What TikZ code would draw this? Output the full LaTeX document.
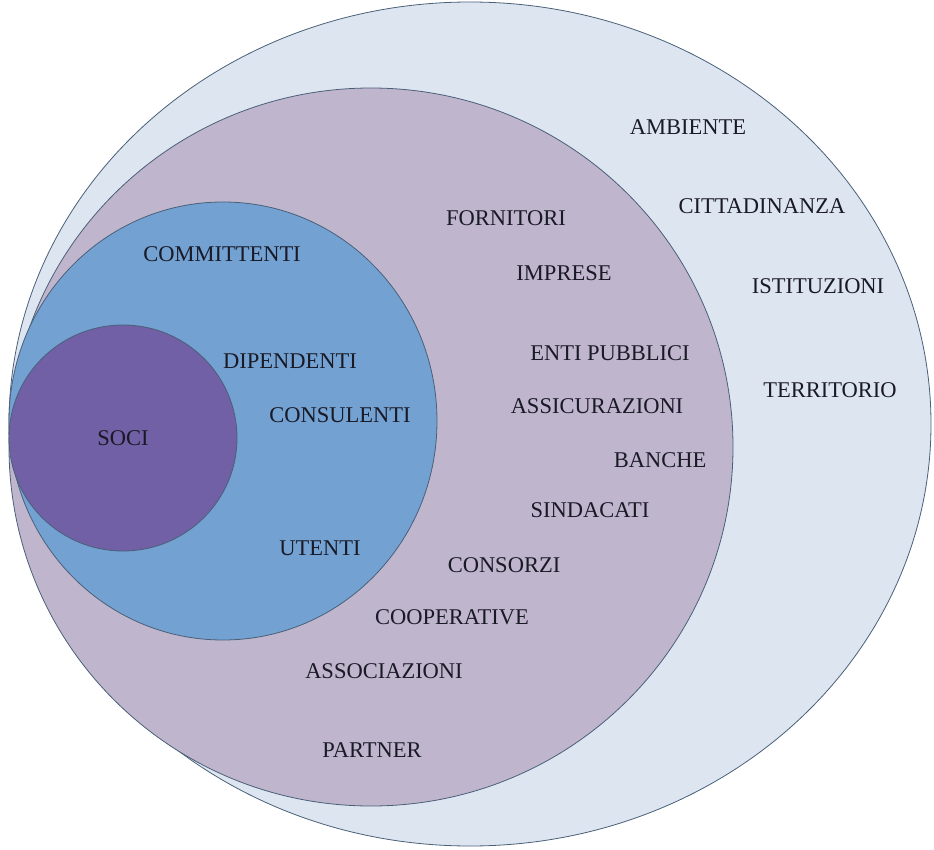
\documentclass[tikz,border=0pt]{standalone}
\usepackage{fontspec}
\setmainfont{Liberation Serif}
\definecolor{outerfill}{HTML}{DDE6F0}
\definecolor{midfill}{HTML}{BFB5CD}
\definecolor{bluefill}{HTML}{72A1D2}
\definecolor{socifill}{HTML}{7160A6}
\definecolor{edge}{HTML}{4A6078}
\definecolor{txt}{HTML}{1A1A26}
\begin{document}
\begin{tikzpicture}[x=1pt,y=-1pt,
  ring/.style={draw=edge,line width=0.8pt},
  lbl/.style={text=txt,font=\fontsize{22.5}{24}\selectfont,inner sep=0pt}]
\useasboundingbox[fill=white] (0,0) rectangle (934,850);
\draw[ring,fill=outerfill] (470,424) ellipse [x radius=461, y radius=422];
\draw[ring,fill=midfill] (371,447) ellipse [x radius=362, y radius=359];
\draw[ring,fill=bluefill] (223,421) ellipse [x radius=214, y radius=219];
\draw[ring,fill=socifill] (123,438) ellipse [x radius=114, y radius=113];
\node[lbl] (ambiente) at (688,127) {AMBIENTE};
\node[lbl] (cittadinanza) at (762,206) {CITTADINANZA};
\node[lbl] (istituzioni) at (818,286) {ISTITUZIONI};
\node[lbl] (territorio) at (830,390) {TERRITORIO};
\node[lbl] (fornitori) at (506,218) {FORNITORI};
\node[lbl] (imprese) at (564,273) {IMPRESE};
\node[lbl] (enti) at (610,353) {ENTI PUBBLICI};
\node[lbl] (assicurazioni) at (597,406) {ASSICURAZIONI};
\node[lbl] (banche) at (660,460) {BANCHE};
\node[lbl] (sindacati) at (590,510) {SINDACATI};
\node[lbl] (consorzi) at (504,565) {CONSORZI};
\node[lbl] (cooperative) at (452,617) {COOPERATIVE};
\node[lbl] (associazioni) at (384,671) {ASSOCIAZIONI};
\node[lbl] (partner) at (372,750) {PARTNER};
\node[lbl] (committenti) at (222,254) {COMMITTENTI};
\node[lbl] (dipendenti) at (290,361) {DIPENDENTI};
\node[lbl] (consulenti) at (340,415) {CONSULENTI};
\node[lbl] (utenti) at (320,548) {UTENTI};
\node[lbl] (soci) at (123,438) {SOCI};
\end{tikzpicture}
\end{document}
